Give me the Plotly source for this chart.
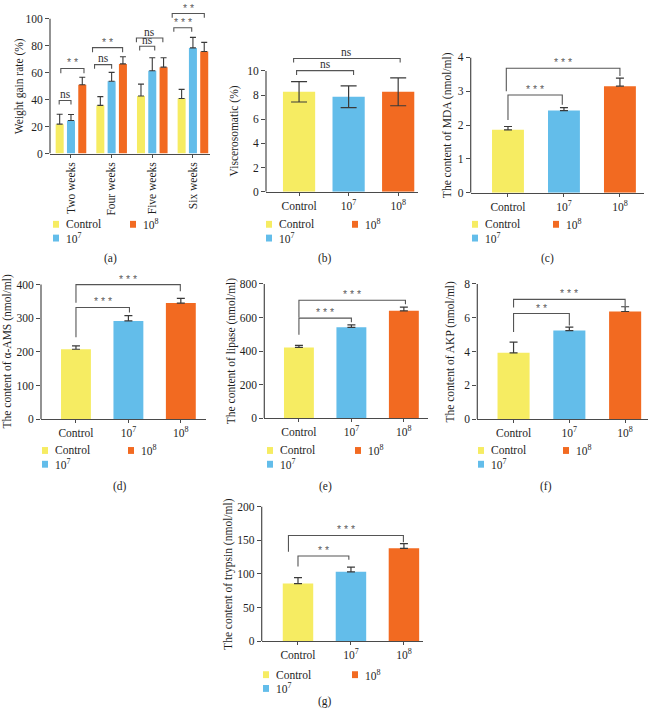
import plotly.graph_objects as go

W, H = 656, 721

# ---------------- data ----------------
weeks = ["Two weeks", "Four weeks", "Five weeks", "Six weeks"]
groups = ["Control", "10<sup>7</sup>", "10<sup>8</sup>"]
colors = ["#F6EC62", "#63BDEA", "#F26A21"]

wg_control = [21.8, 35.7, 42.7, 40.8]
wg_control_sd = [7.3, 6.5, 8.8, 6.8]
wg_1e7 = [24.5, 53.6, 61.4, 78.4]
wg_1e7_sd = [4.4, 6.6, 9.7, 7.8]
wg_1e8 = [51.0, 66.5, 64.1, 75.7]
wg_1e8_sd = [5.6, 5.3, 7.0, 6.8]

visc_mean = [8.27, 7.86, 8.27]
visc_sd = [0.84, 0.90, 1.15]
mda_mean = [1.86, 2.43, 3.15]
mda_sd = [0.10, 0.09, 0.24]
ams_mean = [208, 292, 345]
ams_sd = [10, 16, 14]
lipase_mean = [422, 542, 640]
lipase_sd = [13, 14, 22]
akp_mean = [3.92, 5.24, 6.37]
akp_sd = [0.64, 0.20, 0.28]
trypsin_mean = [85.6, 103, 138]
trypsin_sd = [8.8, 7, 7]

# significance brackets: (x0, x1, y, left-leg end, right-leg end, label)
sig_a = [(-0.29, 0.0, 39.3, 36.4, 36.4, "ns"), (-0.25, 0.32, 63.1, 59.5, 59.5, "**"),
         (0.58, 1.0, 66.0, 63.0, 63.0, "ns"), (0.53, 1.27, 78.6, 75.2, 75.2, "**"),
         (1.69, 2.06, 79.6, 76.5, 76.5, "ns"), (1.61, 2.26, 85.7, 82.5, 82.5, "ns"),
         (2.53, 2.97, 93.4, 90.3, 90.3, "***"), (2.49, 3.28, 103.9, 100.7, 100.7, "**")]
sig_b = [(-0.05, 1.1, 10.02, 9.67, 9.67, "ns"), (-0.11, 2.04, 11.03, 10.7, 10.7, "ns")]
sig_c = [(0.0, 0.97, 2.89, 2.15, 2.6, "***"), (-0.03, 2.0, 3.68, 3.0, 3.45, "***")]
sig_d = [(0.0, 1.02, 332, 244, 317, "***"), (0.0, 1.99, 400, 346, 380, "***")]
sig_e = [(0.0, 1.0, 597, 498, 572, "***"), (0.0, 2.03, 703, 601, 679, "***")]
sig_f = [(0.0, 1.0, 6.25, 5.15, 5.54, "**"), (0.0, 2.0, 7.09, 6.6, 6.7, "***")]
sig_g = [(0.0, 0.96, 126.5, 111, 121, "**"), (-0.18, 1.99, 157, 133, 147, "***")]

# ---------------- layout geometry (pixels) ----------------
panels = [
    dict(key="a", xl=50, xr=210, xrng=(-0.516, 3.42), y0=150, yt=13, top=100, dt=20, R=108, bw=0.197,
         title="Weight gain rate (%)", tx=19, cap=(110, 257), leg=(53, 222, 130)),
    dict(key="b", xl=266, xr=418, xrng=(-0.667, 2.40), y0=189, yt=66, top=10, dt=2, R=11.5, bw=0.65,
         title="Viscerosomatic (%)", tx=234, cap=(325, 257), leg=(266, 222, 352),
         mean=visc_mean, sd=visc_sd, sym=True, sig=sig_b),
    dict(key="c", xl=470.7, xr=644, xrng=(-0.666, 2.43), y0=190, yt=52.3, top=4, dt=1, R=4, bw=0.57,
         title="The content of MDA (nmol/ml)", tx=447, cap=(547, 257), leg=(472, 222, 553),
         mean=mda_mean, sd=mda_sd, sym=False, sig=sig_c),
    dict(key="d", xl=41, xr=206, xrng=(-0.667, 2.48), y0=420.3, yt=283.3, top=400, dt=100, R=410, bw=0.57,
         title="The content of α-AMS (nmol/ml)", tx=7.5, cap=(120, 489), leg=(42, 452, 128),
         mean=ams_mean, sd=ams_sd, sym=False, sig=sig_d),
    dict(key="e", xl=264.3, xr=428, xrng=(-0.66, 2.46), y0=419.3, yt=282.7, top=800, dt=200, R=800, bw=0.57,
         title="The content of lipase (nmol/ml)", tx=231, cap=(325, 489), leg=(267, 452, 355),
         mean=lipase_mean, sd=lipase_sd, sym=False, sig=sig_e),
    dict(key="f", xl=477.3, xr=648, xrng=(-0.65, 2.41), y0=420, yt=282.7, top=8, dt=2, R=8, bw=0.575,
         title="The content of AKP (nmol/ml)", tx=451, cap=(546, 489), leg=(478, 452, 563),
         mean=akp_mean, sd=akp_sd, sym=False, sig=sig_f),
    dict(key="g", xl=261.7, xr=423, xrng=(-0.685, 2.36), y0=646, yt=509, top=200, dt=50, R=200, bw=0.575,
         title="The content of trypsin (nmol/ml)", tx=229, cap=(325, 707), leg=(263, 680, 352),
         mean=trypsin_mean, sd=trypsin_sd, sym=False, sig=sig_g),
]

SERIF = "Liberation Serif, Times New Roman, serif"
AX = "#4a4a4a"
TXT = "#1e1e1e"
FS = 11.5


def px(x):
    return x / W


def py(y):
    return 1 - y / H


fig = go.Figure()
shapes = []
annots = []
layout = {}

for i, p in enumerate(panels):
    n = "" if i == 0 else str(i + 1)
    xa, ya = "x" + n, "y" + n
    scale = (p["y0"] - p["yt"]) / p["top"]
    ytop_px = p["y0"] - p["R"] * scale

    layout["xaxis" + n] = dict(
        domain=[px(p["xl"]), px(p["xr"])], range=list(p["xrng"]), anchor=ya,
        showline=True, linecolor=AX, linewidth=1.2, ticks="outside", ticklen=3,
        tickcolor=AX, showgrid=False, zeroline=False, fixedrange=True,
        tickfont=dict(family=SERIF, size=FS, color=TXT))
    layout["yaxis" + n] = dict(
        domain=[py(p["y0"]), py(ytop_px)], range=[0, p["R"]], anchor=xa,
        showline=False, ticks="outside", ticklen=4, tickcolor=AX, tickwidth=1.2,
        tickvals=[v * p["dt"] for v in range(int(round(p["top"] / p["dt"])) + 1)],
        showgrid=False, zeroline=False, fixedrange=True,
        tickfont=dict(family=SERIF, size=FS, color=TXT))
    # y axis line only up to the top tick
    shapes.append(dict(type="line", xref=xa + " domain", yref=ya, x0=0, x1=0, y0=0, y1=p["top"],
                       line=dict(color=AX, width=1.2), layer="above"))

    if p["key"] == "a":
        layout["xaxis" + n].update(tickvals=list(range(len(weeks))), ticktext=weeks, tickangle=-90)
        series = [(wg_control, wg_control_sd), (wg_1e7, wg_1e7_sd), (wg_1e8, wg_1e8_sd)]
        shifts = [-0.278, 0.0, 0.278]
        for g, ((m, s), sh) in enumerate(zip(series, shifts)):
            fig.add_trace(go.Bar(
                x=list(range(len(weeks))), y=m, width=p["bw"], offset=sh - p["bw"] / 2,
                marker=dict(color=colors[g], line=dict(width=0)), name=groups[g],
                error_y=dict(type="data", array=s, arrayminus=[0] * len(s), symmetric=False,
                             color="#3a3a3a", thickness=1.1, width=3),
                xaxis=xa, yaxis=ya, showlegend=False))
        sig = sig_a
    else:
        layout["xaxis" + n].update(tickvals=list(range(len(groups))), ticktext=groups)
        m, s = p["mean"], p["sd"]
        fig.add_trace(go.Bar(
            x=list(range(len(groups))), y=m, width=p["bw"],
            marker=dict(color=colors, line=dict(width=0)), name=p["title"],
            error_y=dict(type="data", array=s,
                         arrayminus=s if p["sym"] else [0] * len(s), symmetric=False,
                         color="#3a3a3a", thickness=1.2, width=8 if p["sym"] else 4),
            xaxis=xa, yaxis=ya, showlegend=False))
        sig = p["sig"]

    # significance brackets
    for (x0, x1, yy, yl, yr, lab) in sig:
        shapes.append(dict(type="path", xref=xa, yref=ya,
                           path=f"M{x0},{yl} L{x0},{yy} L{x1},{yy} L{x1},{yr}",
                           line=dict(color="#555555", width=1.1), layer="above"))
        if lab == "ns":
            annots.append(dict(x=(x0 + x1) / 2, y=yy, xref=xa, yref=ya, text="ns", showarrow=False,
                               yanchor="bottom", yshift=-1.5,
                               font=dict(family=SERIF, size=FS, color="#333333")))
        else:
            annots.append(dict(x=(x0 + x1) / 2, y=yy, xref=xa, yref=ya, text=" ".join(lab),
                               showarrow=False, yanchor="bottom", yshift=-2,
                               font=dict(family="Liberation Sans, Arial, sans-serif", size=10.5,
                                         color="#5e5e5e")))

    # y-axis title
    annots.append(dict(x=px(p["tx"]), y=py((p["y0"] + p["yt"]) / 2), xref="paper", yref="paper",
                       text=p["title"], textangle=-90, showarrow=False, xanchor="center",
                       yanchor="middle", font=dict(family=SERIF, size=FS, color=TXT)))
    # caption
    annots.append(dict(x=px(p["cap"][0]), y=py(p["cap"][1]), xref="paper", yref="paper",
                       text="(" + p["key"] + ")", showarrow=False, xanchor="center", yanchor="middle",
                       font=dict(family=SERIF, size=FS, color=TXT)))
    # legend (Control, 10^8 in row 1; 10^7 in row 2)
    lx, ly, ox = p["leg"]
    entries = [(lx, ly, 0), (ox, ly, 2), (lx, ly + 14, 1)]
    for (ex, ey, g) in entries:
        shapes.append(dict(type="rect", xref="paper", yref="paper",
                           x0=px(ex), x1=px(ex + 6), y0=py(ey - 3.5), y1=py(ey + 3.5),
                           fillcolor=colors[g], line=dict(width=0)))
        annots.append(dict(x=px(ex + 11), y=py(ey), xref="paper", yref="paper", text=groups[g],
                           showarrow=False, xanchor="left", yanchor="middle",
                           font=dict(family=SERIF, size=FS, color=TXT)))

fig.update_layout(
    width=W, height=H, margin=dict(l=0, r=0, t=0, b=0),
    paper_bgcolor="white", plot_bgcolor="white", barmode="overlay",
    showlegend=False, shapes=shapes, annotations=annots, **layout)

fig.write_html("out.html", config={"displayModeBar": False})
